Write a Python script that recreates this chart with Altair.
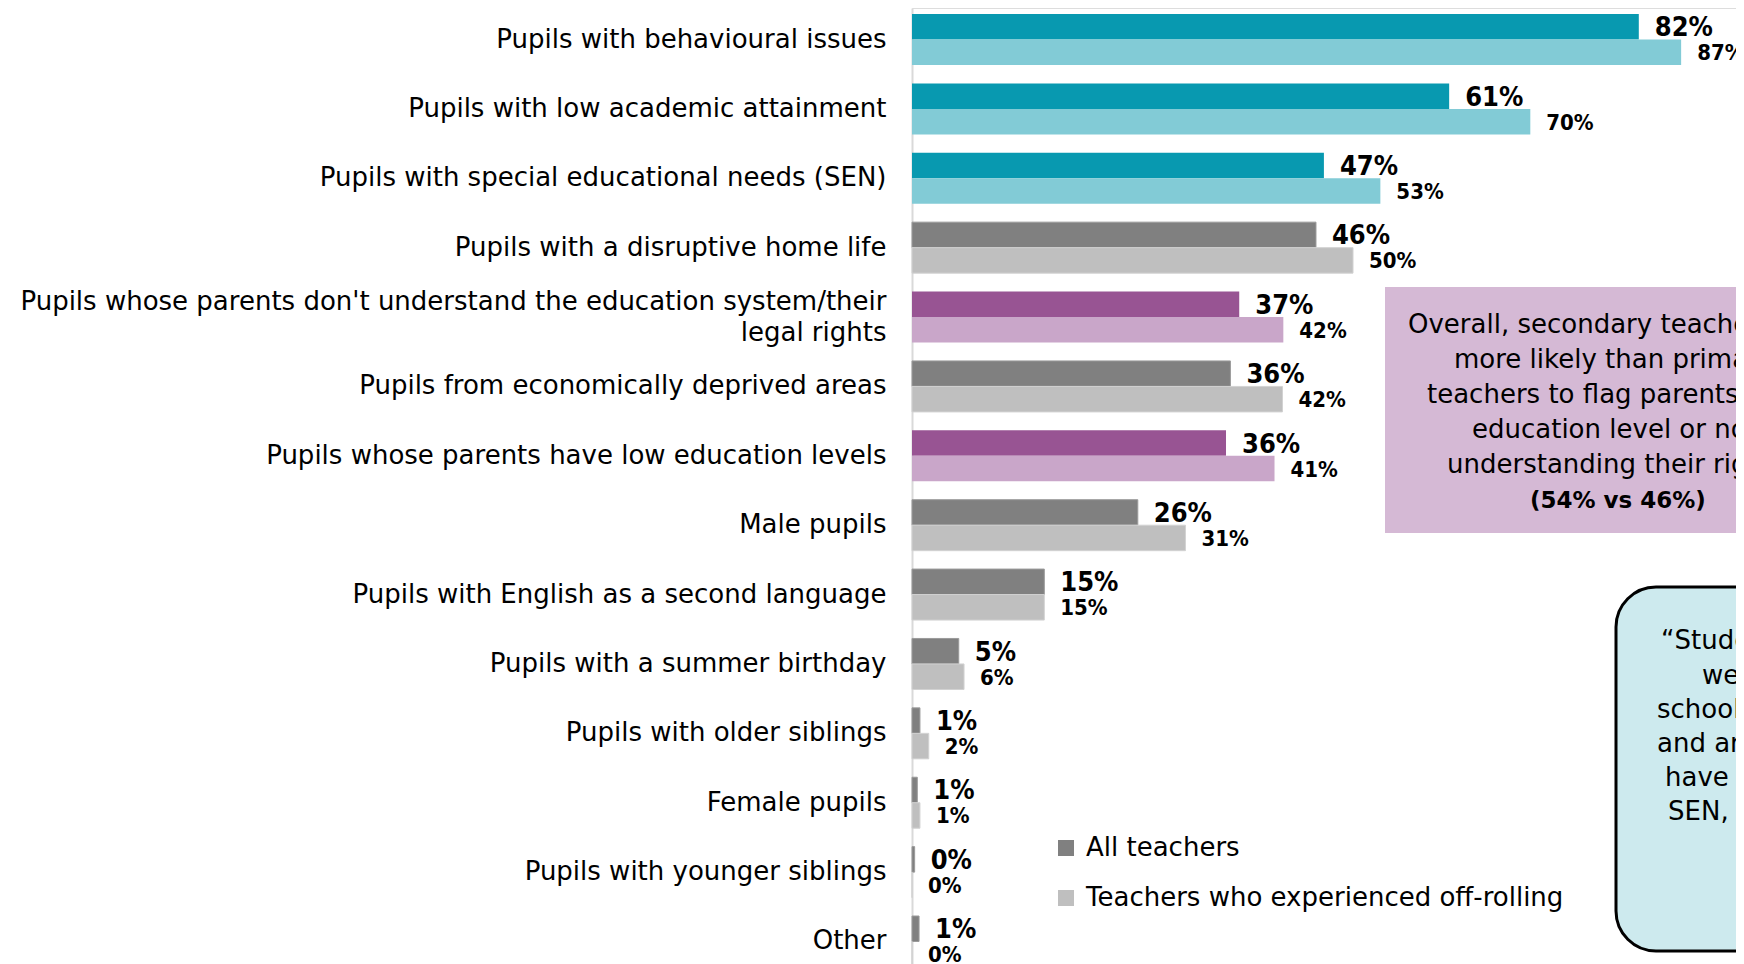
import altair as alt
import pandas as pd

# ---------------- data ----------------
categories = [
    "Pupils with behavioural issues",
    "Pupils with low academic attainment",
    "Pupils with special educational needs (SEN)",
    "Pupils with a disruptive home life",
    "Pupils whose parents don't understand the education system/their|legal rights",
    "Pupils from economically deprived areas",
    "Pupils whose parents have low education levels",
    "Male pupils",
    "Pupils with English as a second language",
    "Pupils with a summer birthday",
    "Pupils with older siblings",
    "Female pupils",
    "Pupils with younger siblings",
    "Other",
]
groups = ["teal", "teal", "teal", "grey", "purple", "grey", "purple",
          "grey", "grey", "grey", "grey", "grey", "grey", "grey"]
series = ["All teachers", "Teachers who experienced off-rolling"]
all_teachers = [82.4, 60.9, 46.7, 45.8, 37.1, 36.1, 35.6, 25.6, 15.0, 5.3, 0.9, 0.6, 0.3, 0.8]
off_rolling = [87.2, 70.1, 53.1, 50.0, 42.1, 42.0, 41.1, 31.0, 15.0, 5.9, 1.9, 0.9, 0.0, 0.0]

purple_lines = ["Overall, secondary teachers were", "more likely than primary",
                "teachers to flag parents' low", "education level or not",
                "understanding their rights"]
purple_bold = "(54% vs 46%)"
quote_lines = ["\u201cStudents who are", "weak academically,", "schools think will",
               "and are likely to", "have behaviour issues,", "SEN, or both.\u201d"]

# ---------------- styles ----------------
FONT = "DejaVu Sans"
BOLD_FONT = "DejaVu Sans Condensed"
grey_dark, grey_light = "#808080", "#BFBFBF"
key_domain = ["teal|0", "teal|1", "purple|0", "purple|1"]
key_range = ["#0899B0", "#82CBD6", "#985493", "#C9A6C9"]

rows = []
for cat, grp, a, b in zip(categories, groups, all_teachers, off_rolling):
    for si, (s, v) in enumerate(zip(series, (a, b))):
        rows.append({"category": cat, "group": grp, "series": s, "sidx": si,
                     "value": v, "key": f"{grp}|{si}", "label": f"{v:.0f}%"})
df = pd.DataFrame(rows)

two_line = categories[4]

base = alt.Chart(df).encode(
    y=alt.Y(
        "category:N", sort=categories,
        scale=alt.Scale(paddingInner=0.265, paddingOuter=0.0865, range=[0, 965]),
        axis=alt.Axis(title=None, ticks=False, tickSize=0, labelPadding=26,
                      labelFont=FONT, labelFontSize=26, labelColor="black",
                      labelLimit=1000, labelOverlap=False, grid=False,
                      domainColor="#D9D9D9", domainWidth=2,
                      labelExpr="split(datum.label, '|')", labelLineHeight=31,
                      labelOffset={"condition": {"test": f"datum.value == \"{two_line}\"",
                                                 "value": -15.5},
                                   "value": 0}),
    ),
    yOffset=alt.YOffset("series:N", sort=series,
                        scale=alt.Scale(paddingInner=0, paddingOuter=0)),
)

xscale = alt.Scale(domain=[0, 93.42], nice=False, zero=True)

bars_grey = base.transform_filter("datum.group == 'grey'").mark_bar(strokeWidth=1).encode(
    x=alt.X("value:Q", scale=xscale, axis=None),
    color=alt.Color(
        "series:N", sort=series,
        scale=alt.Scale(domain=series, range=[grey_dark, grey_light]),
        legend=alt.Legend(orient="none", legendX=141, legendY=827, title=None,
                          symbolType="square", symbolSize=256, symbolStrokeWidth=0,
                          labelFont=FONT, labelFontSize=26, labelColor="black",
                          rowPadding=24, labelOffset=7, labelLimit=0, padding=0),
    ),
    stroke=alt.Stroke("series:N", sort=series,
                      scale=alt.Scale(domain=series, range=["#9A9A9A", "#D2D2D2"]),
                      legend=None),
)

bars_col = base.transform_filter("datum.group != 'grey'").mark_bar().encode(
    x=alt.X("value:Q", scale=xscale, axis=None),
    fill=alt.Fill("key:N", scale=alt.Scale(domain=key_domain, range=key_range), legend=None),
)

lab1 = base.transform_filter("datum.sidx == 0").mark_text(
    align="left", baseline="alphabetic", dx=16, dy=9.5, font=BOLD_FONT,
    fontSize=27, fontWeight="bold", color="black", clip=True,
).encode(x=alt.X("value:Q", scale=xscale, axis=None), text="label:N")

lab2 = base.transform_filter("datum.sidx == 1").mark_text(
    align="left", baseline="alphabetic", dx=16, dy=8, font=BOLD_FONT,
    fontSize=22, fontWeight="bold", color="black", clip=True,
).encode(x=alt.X("value:Q", scale=xscale, axis=None), text="label:N")

one = pd.DataFrame({"k": [0]})

purple_box = alt.Chart(one).mark_rect(color="#D5B9D5").encode(
    x=alt.value(473), x2=alt.value(939), y=alt.value(279), y2=alt.value(525))

purple_x = [496, 542, 515, 560, 535]
purple_y = [325, 360, 395, 430, 465]
purple_layers = []
for line, px, py in zip(purple_lines, purple_x, purple_y):
    purple_layers.append(
        alt.Chart(one).mark_text(align="left", baseline="alphabetic", font=FONT,
                                 fontSize=26, color="black")
        .encode(x=alt.value(px), y=alt.value(py), text=alt.value(line))
    )
purple_text_b = alt.Chart(one).mark_text(
    align="left", baseline="alphabetic", font=FONT, fontSize=23,
    fontWeight="bold", color="black",
).encode(x=alt.value(618), y=alt.value(500), text=alt.value(purple_bold))

quote_box = alt.Chart(one).mark_rect(
    color="#CDEAEE", stroke="black", strokeWidth=3, cornerRadius=40,
).encode(x=alt.value(704), x2=alt.value(1130), y=alt.value(579), y2=alt.value(943))

quote_x = [749, 790, 745, 745, 753, 756]
quote_y = [641, 676, 710, 744, 778, 812]
quote_layers = []
for line, qx, qy in zip(quote_lines, quote_x, quote_y):
    quote_layers.append(
        alt.Chart(one).mark_text(align="left", baseline="alphabetic", font=FONT,
                                 fontSize=26, color="black")
        .encode(x=alt.value(qx), y=alt.value(qy), text=alt.value(line))
    )

chart = alt.layer(
    bars_grey, bars_col, lab1, lab2,
    purple_box, *purple_layers, purple_text_b, quote_box, *quote_layers,
).properties(
    width=824, height=956,
    padding={"left": 904, "top": 0, "right": 0, "bottom": 0},
    autosize=alt.AutoSizeParams(type="none"),
).configure_view(stroke=None).configure(background="white")

chart.save("out.html", embed_options={"renderer": "svg", "actions": False})
